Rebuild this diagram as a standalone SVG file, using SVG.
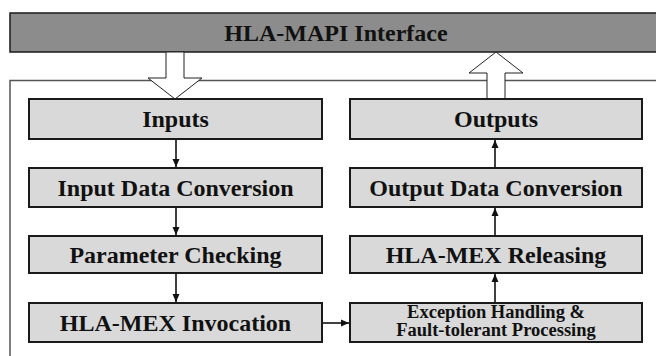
<svg xmlns="http://www.w3.org/2000/svg" width="656" height="356" viewBox="0 0 656 356">
<style>
.box{fill:#d9d9d9;stroke:#1a1a1a;stroke-width:2}
.t{font-family:"Liberation Serif","Times New Roman",serif;font-weight:bold;font-size:24px;fill:#111;text-anchor:middle}
.ts{font-family:"Liberation Serif","Times New Roman",serif;font-weight:bold;font-size:18.5px;fill:#111;text-anchor:middle}
.c{stroke:#111;stroke-width:1.6;fill:none}
.hollow{fill:#fff;stroke:#222;stroke-width:1}
</style>
<defs>
<marker id="ah" markerUnits="userSpaceOnUse" markerWidth="8" markerHeight="8" viewBox="0 0 8 8" refX="8" refY="4" orient="auto">
<path d="M0,0.5 L8,4 L0,7.5 Z" fill="#111"/>
</marker>
</defs>
<rect width="656" height="356" fill="#fff"/>
<path d="M10,356 V80.5 H656" fill="none" stroke="#555" stroke-width="1.5"/>
<g id="interface">
<rect x="10" y="13" width="650" height="39" fill="#8c8c8c" stroke="#1a1a1a" stroke-width="1.5"/>
<text class="t" x="336" y="40.5">HLA-MAPI Interface</text>
</g>
<g id="in-arrow">
<path class="hollow" d="M166,52 V78 H148 L175,99 L202,78 H184 V52 Z"/>
</g>
<g id="out-arrow">
<path class="hollow" d="M487,99 V73 H469 L496,52 L523,73 H505 V99 Z"/>
</g>
<g id="inputs"><rect class="box" x="29" y="99" width="293" height="40"/><text class="t" x="175.5" y="127">Inputs</text></g>
<g id="input-conv"><rect class="box" x="29" y="168" width="293" height="39"/><text class="t" x="175.5" y="195.5">Input Data Conversion</text></g>
<g id="param"><rect class="box" x="29" y="236" width="293" height="37"/><text class="t" x="175.5" y="262.5">Parameter Checking</text></g>
<g id="invoke"><rect class="box" x="29" y="303" width="293" height="39"/><text class="t" x="175.5" y="330.5">HLA-MEX Invocation</text></g>
<g id="outputs"><rect class="box" x="350" y="99" width="292" height="40"/><text class="t" x="496" y="127">Outputs</text></g>
<g id="output-conv"><rect class="box" x="350" y="168" width="292" height="39"/><text class="t" x="496" y="195.5">Output Data Conversion</text></g>
<g id="release"><rect class="box" x="350" y="236" width="292" height="37"/><text class="t" x="496" y="262.5">HLA-MEX Releasing</text></g>
<g id="exception"><rect class="box" x="350" y="303" width="292" height="39"/><text class="ts" x="496" y="317.5">Exception Handling &amp;</text><text class="ts" x="496" y="336">Fault-tolerant Processing</text></g>
<g id="connectors">
<line class="c" x1="176" y1="140" x2="176" y2="167" marker-end="url(#ah)"/>
<line class="c" x1="176" y1="208" x2="176" y2="235" marker-end="url(#ah)"/>
<line class="c" x1="176" y1="274" x2="176" y2="302" marker-end="url(#ah)"/>
<line class="c" x1="323" y1="323" x2="349" y2="323" marker-end="url(#ah)"/>
<line class="c" x1="495" y1="302" x2="495" y2="274" marker-end="url(#ah)"/>
<line class="c" x1="495" y1="235" x2="495" y2="208" marker-end="url(#ah)"/>
<line class="c" x1="495" y1="167" x2="495" y2="140" marker-end="url(#ah)"/>
</g>
</svg>
